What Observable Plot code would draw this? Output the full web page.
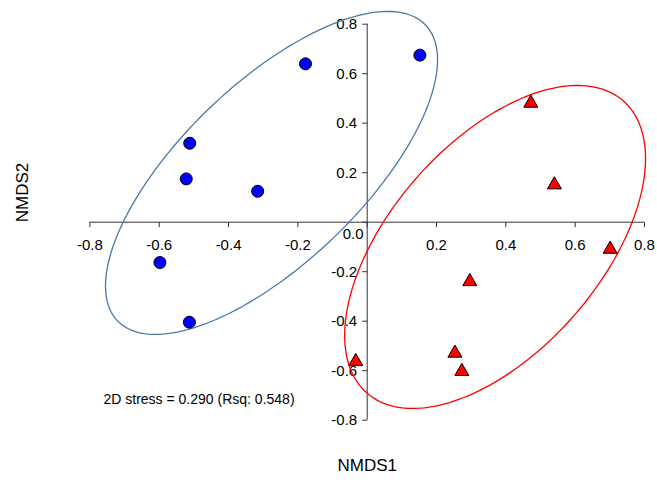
<!DOCTYPE html>
<html>
<head>
<meta charset="utf-8">
<script src="https://cdn.jsdelivr.net/npm/d3@7"></script>
<script src="https://cdn.jsdelivr.net/npm/@observablehq/plot@0.6"></script>
<style>
  html, body { margin: 0; padding: 0; background: #fff; }
  #chart { width: 657px; height: 484px; }
</style>
</head>
<body>
<div id="chart"></div>
<script>
// ---- data ----
const groupA_x = [-0.178, 0.152, -0.512, -0.522, -0.316, -0.598, -0.513];
const groupA_y = [0.640, 0.675, 0.319, 0.175, 0.125, -0.163, -0.404];
const groupB_x = [0.472, 0.540, 0.701, 0.296, 0.253, 0.273, -0.033];
const groupB_y = [0.481, 0.151, -0.109, -0.240, -0.529, -0.603, -0.563];

// ellipse parameters (A = blue, B = red)
const ellipseGroups = ["A", "B"];
const ellipseCenterX = [-0.276, 0.369];
const ellipseCenterY = [0.199, -0.100];
const ellipseRadiusX = [0.479, 0.434];
const ellipseRadiusY = [0.6525, 0.6525];
const ellipsePhaseDeg = [45.6, 56.8];

const xTicks = [-0.8, -0.6, -0.4, -0.2, 0, 0.2, 0.4, 0.6, 0.8];
const yTicks = [-0.8, -0.6, -0.4, -0.2, 0, 0.2, 0.4, 0.6, 0.8];
const stressLabel = "2D stress = 0.290 (Rsq: 0.548)";
const xTitle = "NMDS1";
const yTitle = "NMDS2";

// ---- build tables ----
const pointsA = groupA_x.map((x, i) => ({x, y: groupA_y[i]}));
const pointsB = groupB_x.map((x, i) => ({x, y: groupB_y[i]}));

const ellipsePts = [];
ellipseGroups.forEach((g, k) => {
  const d = ellipsePhaseDeg[k] * Math.PI / 180;
  for (let a = 0; a <= 360; a += 2) {
    const t = a * Math.PI / 180;
    ellipsePts.push({
      g,
      x: ellipseCenterX[k] + ellipseRadiusX[k] * Math.cos(t),
      y: ellipseCenterY[k] + ellipseRadiusY[k] * Math.cos(t - d)
    });
  }
});

const tickDown = {draw(ctx) { ctx.moveTo(0, 0); ctx.lineTo(0, 5); }};
const tickLeft = {draw(ctx) { ctx.moveTo(0, 0); ctx.lineTo(-5, 0); }};

const font = "'Liberation Sans', Arial, Helvetica, sans-serif";
const axisColor = "#333";

const chart = Plot.plot({
  width: 657,
  height: 484,
  marginLeft: 89.4,
  marginRight: 13,
  marginTop: 23.7,
  marginBottom: 64.3,
  x: {domain: [-0.8, 0.8], axis: null},
  y: {domain: [-0.8, 0.8], axis: null},
  style: {fontFamily: font, background: "#fff", color: "#000"},
  marks: [
    // axes through origin
    Plot.ruleY([0], {x1: () => xTicks[0], x2: () => xTicks[xTicks.length - 1], stroke: axisColor, strokeWidth: 1}),
    Plot.ruleX([0], {y1: () => yTicks[0], y2: () => yTicks[yTicks.length - 1], stroke: axisColor, strokeWidth: 1}),
    Plot.dot(xTicks, {x: d => d, y: () => 0, symbol: tickDown, stroke: axisColor, fill: "none", strokeWidth: 1}),
    Plot.dot(yTicks, {x: () => 0, y: d => d, symbol: tickLeft, stroke: axisColor, fill: "none", strokeWidth: 1}),
    Plot.text(xTicks.filter(d => d !== 0), {x: d => d, y: () => 0, text: d => d.toFixed(1), dy: 23, fontSize: 15, fill: "#000"}),
    Plot.text(yTicks.filter(d => d !== 0), {x: () => 0, y: d => d, text: d => d.toFixed(1), dx: -10, textAnchor: "end", fontSize: 15, fill: "#000"}),
    Plot.text([0], {x: d => d, y: d => d, text: d => d.toFixed(1), dx: -14, dy: 11.5, fontSize: 15, fill: "#000"}),
    // ellipses
    Plot.line(ellipsePts, {x: "x", y: "y", z: "g", stroke: d => d.g, strokeWidth: 1.3}),
    // points
    Plot.dot(pointsA, {x: "x", y: "y", r: 6, symbol: "circle", fill: "#0000ff", stroke: "#000", strokeWidth: 1}),
    Plot.dot(pointsB, {x: "x", y: "y", r: 5.2, symbol: "triangle", fill: "#ff0000", stroke: "#000", strokeWidth: 1}),
    // annotations
    Plot.text([stressLabel], {frameAnchor: "bottom-left", text: d => d, textAnchor: "start", dx: 13.6, dy: -16, fontSize: 14, fill: "#000"}),
    Plot.text([xTitle], {frameAnchor: "bottom", text: d => d, dy: 51, fontSize: 17, fill: "#000"}),
    Plot.text([yTitle], {frameAnchor: "left", text: d => d, rotate: -90, dx: -67, dy: 0, fontSize: 17, fill: "#000"})
  ],
  color: {domain: ["A", "B"], range: ["#4a79a8", "#ff0000"]}
});

document.getElementById("chart").appendChild(chart);
</script>
</body>
</html>
